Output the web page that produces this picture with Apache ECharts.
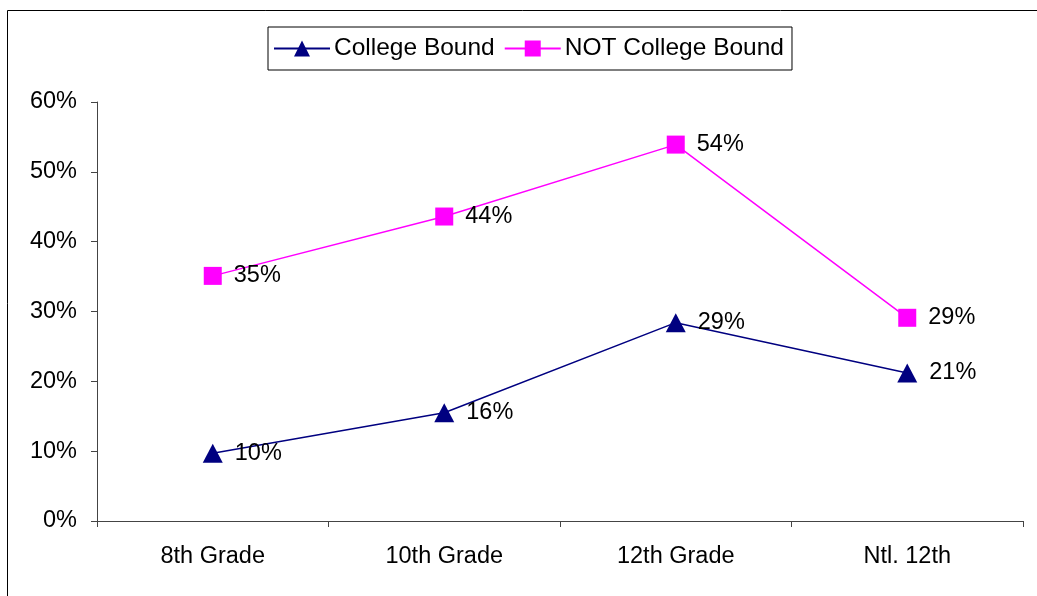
<!DOCTYPE html>
<html>
<head>
<meta charset="utf-8">
<script src="https://cdn.jsdelivr.net/npm/echarts@6/dist/echarts.min.js"></script>
<style>
html,body{margin:0;padding:0;background:#fff;}
#c{width:1037px;height:596px;}
</style>
</head>
<body>
<div id="c"></div>
<script>
const categories = ['8th Grade', '10th Grade', '12th Grade', 'Ntl. 12th'];
const collegeBound = [9.7, 15.5, 28.4, 21.2];
const notCollegeBound = [35.1, 43.6, 53.9, 29.1];
const collegeBoundLabels = ['10%', '16%', '29%', '21%'];
const notCollegeBoundLabels = ['35%', '44%', '54%', '29%'];
const seriesNames = ['College Bound', 'NOT College Bound'];

const font = 'Liberation Sans, Arial, sans-serif';
const chart = echarts.init(document.getElementById('c'));
chart.setOption({
  backgroundColor: '#fff',
  animation: false,
  graphic: [{
    type: 'rect', left: 5, top: 8,
    shape: {x: 0, y: 0, width: 1040, height: 600},
    style: {fill: 'none', stroke: '#000', lineWidth: 1}, silent: true, z: -1
  }],
  legend: {
    left: 268, top: 27,
    data: seriesNames,
    itemWidth: 56, itemHeight: 20, itemGap: 9,
    padding: [9, 8, 9, 5],
    borderColor: '#000', borderWidth: 1,
    textStyle: {fontFamily: font, fontSize: 24.5, color: '#000', padding: [0, 0, 0, -1]}
  },
  grid: {left: 97, right: 14, top: 102, bottom: 75},
  xAxis: {
    type: 'category', data: categories, boundaryGap: true,
    axisLine: {lineStyle: {color: '#444', width: 1}},
    axisTick: {show: true, length: 6, lineStyle: {color: '#444'}},
    axisLabel: {fontFamily: font, fontSize: 23.5, color: '#000', margin: 24}
  },
  yAxis: {
    type: 'value', min: 0, max: 60, interval: 10,
    splitLine: {show: false},
    axisLine: {show: true, lineStyle: {color: '#444', width: 1}},
    axisTick: {show: true, length: 6, lineStyle: {color: '#444'}},
    axisLabel: {fontFamily: font, fontSize: 23.5, color: '#000', margin: 20, formatter: '{value}%'}
  },
  series: [
    {
      name: seriesNames[0], type: 'line', data: collegeBound,
      symbol: 'triangle', symbolSize: [20, 19],
      lineStyle: {color: '#000080', width: 1.5},
      itemStyle: {color: '#000080'},
      label: {show: true, position: 'right', distance: 12, fontFamily: font, fontSize: 23.5, color: '#000',
        formatter: p => collegeBoundLabels[p.dataIndex]}
    },
    {
      name: seriesNames[1], type: 'line', data: notCollegeBound,
      symbol: 'rect', symbolSize: 18,
      lineStyle: {color: '#FF00FF', width: 1.5},
      itemStyle: {color: '#FF00FF'},
      label: {show: true, position: 'right', distance: 12, fontFamily: font, fontSize: 23.5, color: '#000',
        formatter: p => notCollegeBoundLabels[p.dataIndex]}
    }
  ]
});
</script>
</body>
</html>
